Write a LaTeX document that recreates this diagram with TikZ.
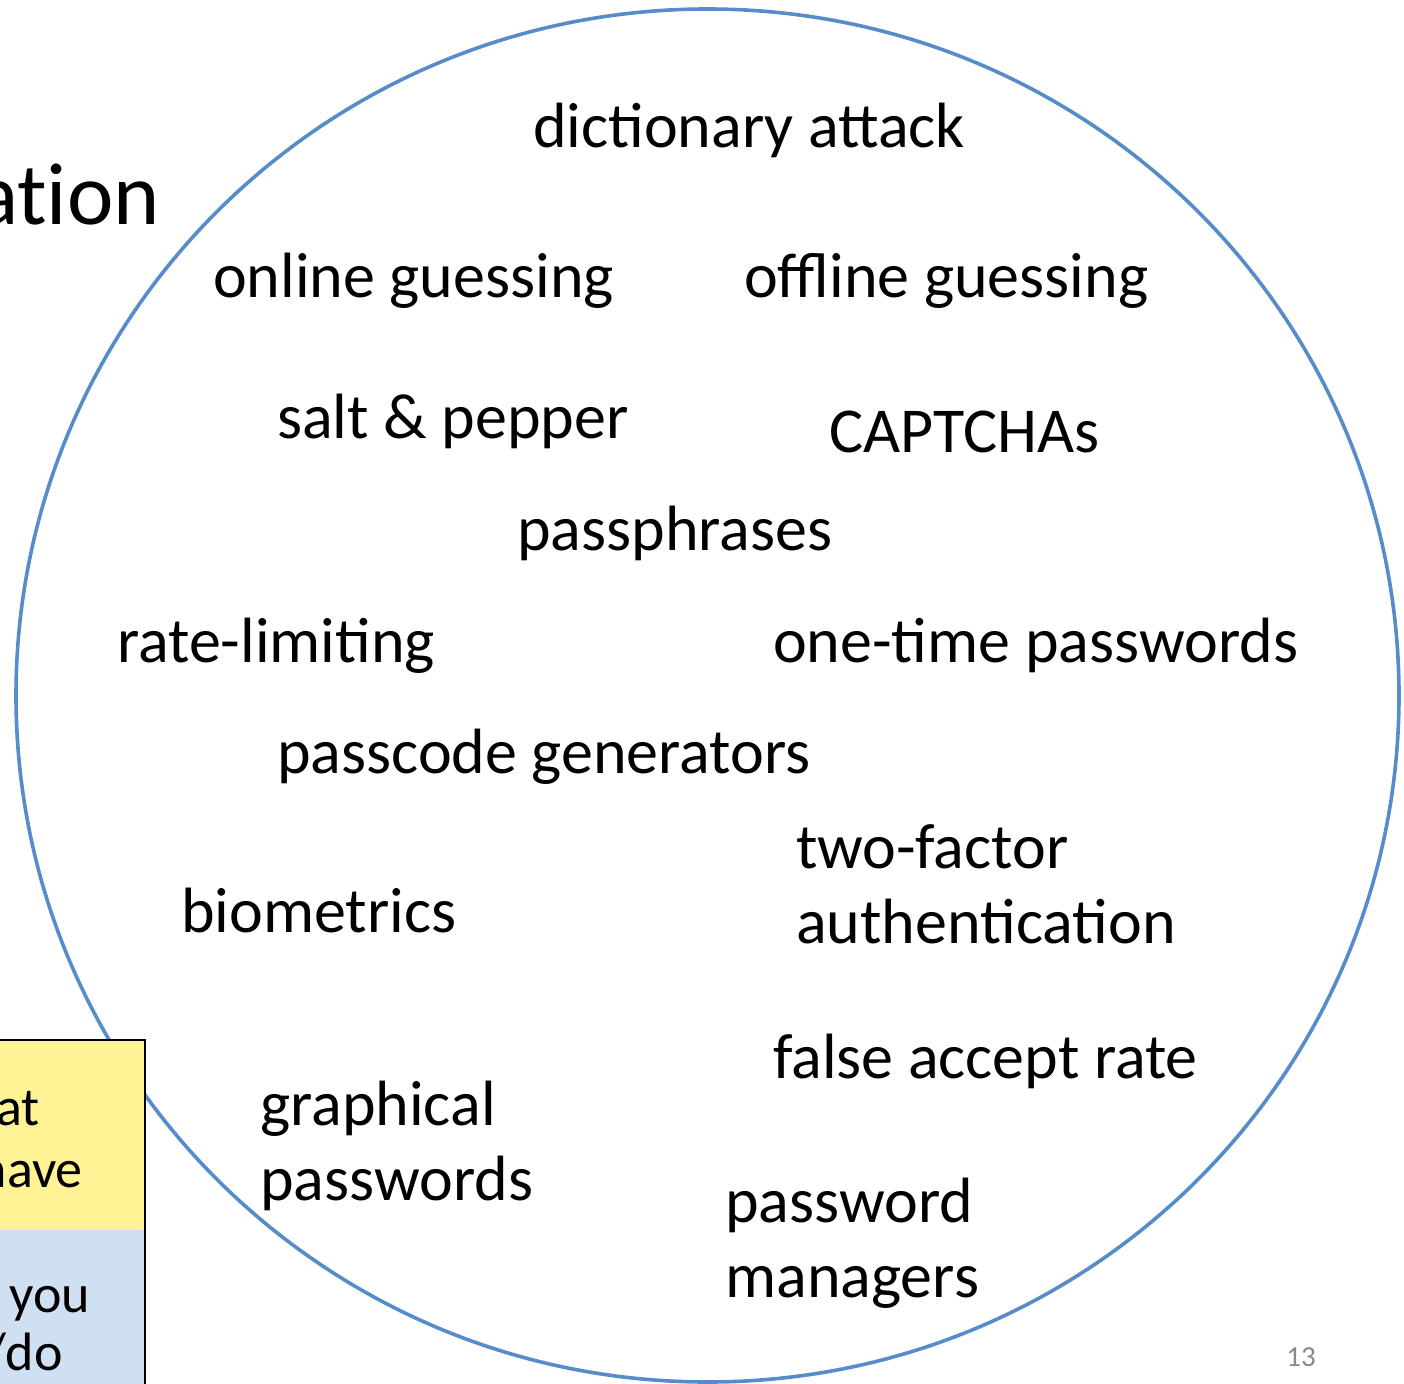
\documentclass[tikz,border=0pt]{standalone}
\usepackage{fontspec}
\setmainfont{Carlito}
\definecolor{ringblue}{RGB}{86,140,201}
\definecolor{haveyellow}{RGB}{255,243,150}
\definecolor{areblue}{RGB}{207,224,242}
\definecolor{pagegray}{RGB}{137,137,137}
\tikzset{
  term/.style={anchor=base west, inner sep=0pt, font=\fontsize{64}{75}\selectfont},
  title/.style={anchor=base east, inner sep=0pt, font=\fontsize{88}{106}\selectfont\addfontfeatures{Ligatures=NoCommon}},
  boxtext/.style={anchor=base east, inner sep=0pt, font=\fontsize{54}{62}\selectfont},
  ring/.style={draw=ringblue, line width=3.6pt},
}
\begin{document}
\begin{tikzpicture}[x=1pt,y=-1pt]
\useasboundingbox (0,0) rectangle (1404,1383);
\clip (0,0) rectangle (1404,1383);

% slide title, running off the left edge
\node[title] (heading) at (160,224) {ation};

% the ring of password-related terms
\draw[ring] (707.5,695.5) ellipse [x radius=691.5, y radius=686.5];

% factor boxes on the left edge
\fill[haveyellow] (-10,1040) rectangle (145,1230);
\fill[areblue] (-10,1230) rectangle (145,1400);
\draw[black, line width=1.5pt] (-10,1040) -- (145,1040) -- (145,1400);
\node[boxtext] (have1) at (40,1125) {at};
\node[boxtext] (have2) at (83,1187) {have};
\node[boxtext] (are1) at (90,1312) {you};
\node[boxtext] (are2) at (63,1370) {/do};

% terms
\node[term] (dict) at (533,148) {dictionary attack};
\node[term] (online) at (213,297) {online guessing};
\node[term] (offline) at (744,297) {offline guessing};
\node[term] (salt) at (277,438) {salt \& pepper};
\node[term] (captcha) at (829,452) {CAPTCHAs};
\node[term] (phrases) at (517,550) {passphrases};
\node[term] (rate) at (117,662) {rate-limiting};
\node[term] (otp) at (773,662) {one-time passwords};
\node[term] (gen) at (277,773) {passcode generators};
\node[term] (twofa) at (796,868) {two-factor};
\node[term] (twofb) at (796,943) {authentication};
\node[term] (bio) at (181,932) {biometrics};
\node[term] (far) at (773,1078) {false accept rate};
\node[term] (grapha) at (260,1125) {graphical};
\node[term] (graphb) at (260,1200) {passwords};
\node[term] (mgra) at (725,1222) {password};
\node[term] (mgrb) at (725,1297) {managers};

% page number
\node[anchor=base east, inner sep=0pt, text=pagegray, font=\fontsize{29}{35}\selectfont] (page) at (1316,1366) {13};
\end{tikzpicture}
\end{document}
